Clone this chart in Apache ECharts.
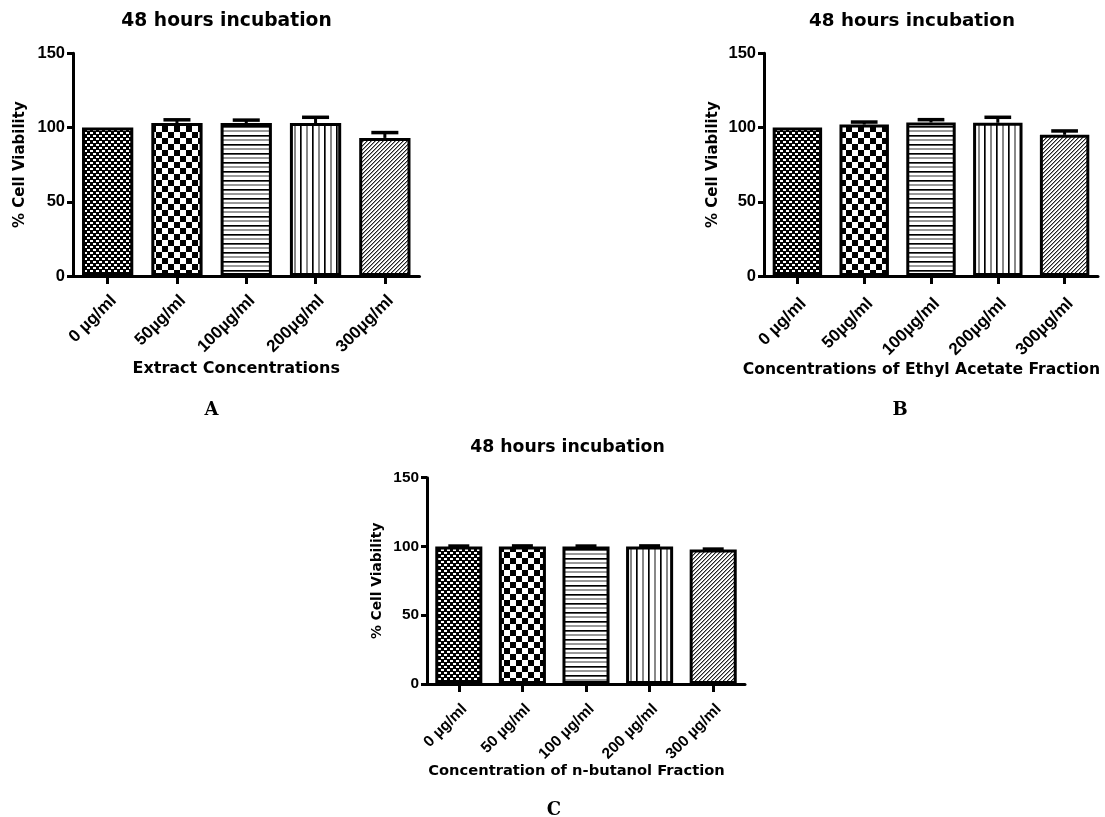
<!DOCTYPE html>
<html><head><meta charset="utf-8">
<script src="https://cdn.jsdelivr.net/npm/echarts@6/dist/echarts.min.js"></script>
<style>html,body{margin:0;padding:0;background:#fff}#chart{width:1105px;height:817px}</style>
</head><body><div id="chart"></div>
<script>
// ---------- data ----------
const titleText = '48 hours incubation';
const yAxisName = '% Cell Viability';
const categoriesAB = ['0 µg/ml', '50µg/ml', '100µg/ml', '200µg/ml', '300µg/ml'];
const categoriesC = ['0 µg/ml', '50 µg/ml', '100 µg/ml', '200 µg/ml', '300 µg/ml'];
const xNameA = 'Extract Concentrations';
const xNameB = 'Concentrations of Ethyl Acetate Fraction';
const xNameC = 'Concentration of n-butanol Fraction';
const meanA = [100, 103, 103, 103, 93];
const errA = [0, 2.2, 2.0, 3.9, 3.6];
const meanB = [100, 102, 103.4, 103.2, 95.1];
const errB = [0, 1.7, 1.9, 3.7, 2.6];
const meanC = [100, 100, 100, 100, 97.8];
const errC = [0.3, 0.4, 0.3, 0.4, 0.3];
const yTicks = [0, 50, 100, 150];
const panelLetters = ['A', 'B', 'C'];

// ---------- fill patterns ----------
function makeTile(w, h, draw) {
  const c = document.createElement('canvas');
  c.width = w; c.height = h;
  const g = c.getContext('2d');
  g.fillStyle = '#fff'; g.fillRect(0, 0, w, h);
  draw(g);
  return c;
}
const tiles = [
  makeTile(6, 6, g => { g.fillStyle = '#000'; g.fillRect(0, 0, 6, 6); g.fillStyle = '#fff'; g.fillRect(0, 0, 3, 2); g.fillRect(3, 3, 3, 2); }),
  makeTile(12, 12, g => { g.fillStyle = '#000'; g.fillRect(0, 0, 6, 6); g.fillRect(6, 6, 6, 6); }),
  makeTile(4, 9, g => { g.fillStyle = '#000'; g.fillRect(0, 0, 4, 1); g.fillStyle = '#555'; g.fillRect(0, 1, 4, 1); g.fillStyle = '#999'; g.fillRect(0, 4, 4, 2); }),
  makeTile(12, 4, g => { g.fillStyle = '#000'; g.fillRect(0, 0, 1, 4); g.fillStyle = '#555'; g.fillRect(1, 0, 1, 4); g.fillStyle = '#888'; g.fillRect(6, 0, 2, 4); }),
  makeTile(4, 4, g => {
    for (let i = 0; i < 4; i++) for (let j = 0; j < 4; j++) {
      const s = (i + j) % 4;
      if (s === 3) { g.fillStyle = '#222'; g.fillRect(i, j, 1, 1); }
      else if (s === 0) { g.fillStyle = '#999'; g.fillRect(i, j, 1, 1); }
    }
  })
];

// ---------- layout per panel ----------
const panels = [
  { grid: { left: 73, top: 53.3, width: 346.5, height: 222.7 }, cats: categoriesAB, mean: meanA, err: errA, xName: xNameA,
    tickFs: 16.5, xLabFs: 17, xLabMargin: 16, xNameFs: 16, xNameGap: 85, xNamePad: 20, yNameFs: 15, yNameGap: 45, cap: 0.39,
    title: { x: 226.5, y: 21.5, fs: 18.7 }, letter: { x: 211.5, y: 410 } },
  { grid: { left: 764, top: 53.3, width: 334, height: 222.7 }, cats: categoriesAB, mean: meanB, err: errB, xName: xNameB,
    tickFs: 16.5, xLabFs: 17, xLabMargin: 19, xNameFs: 15.6, xNameGap: 86, xNamePad: 19, yNameFs: 15, yNameGap: 43.5, cap: 0.4,
    title: { x: 912, y: 21.5, fs: 18.3 }, letter: { x: 900, y: 410 } },
  { grid: { left: 427, top: 477.7, width: 318, height: 206.3 }, cats: categoriesC, mean: meanC, err: errC, xName: xNameC,
    tickFs: 15.4, xLabFs: 15.5, xLabMargin: 17, xNameFs: 14.7, xNameGap: 80, xNamePad: 19, yNameFs: 13.8, yNameGap: 43, cap: 0.33,
    title: { x: 567.5, y: 448, fs: 17.3 }, letter: { x: 554, y: 810 } }
];

const sansBold = { fontFamily: 'Liberation Sans, Arial, sans-serif', fontWeight: 'bold', color: '#000' };
const wideBold = { fontFamily: 'DejaVu Sans, sans-serif', fontWeight: 'bold', color: '#000' };

const grids = [], xAxes = [], yAxes = [], series = [], graphics = [];
panels.forEach((p, i) => {
  grids.push(Object.assign({ containLabel: false, outerBoundsMode: 'none' }, p.grid));
  xAxes.push({
    type: 'category', gridIndex: i, data: p.cats, boundaryGap: true,
    axisLine: { show: true, lineStyle: { color: '#000', width: 3 } },
    axisTick: { show: true, alignWithLabel: true, length: 8, lineStyle: { color: '#000', width: 3 } },
    axisLabel: Object.assign({ rotate: 45, interval: 0, fontSize: p.xLabFs, margin: p.xLabMargin, verticalAlign: 'top', hideOverlap: false }, sansBold),
    splitLine: { show: false },
    name: p.xName, nameLocation: 'middle', nameGap: p.xNameGap, nameMoveOverlap: false,
    nameTextStyle: Object.assign({ fontSize: p.xNameFs, padding: [0, p.xNamePad, 0, 0] }, wideBold)
  });
  yAxes.push({
    type: 'value', gridIndex: i, min: yTicks[0], max: yTicks[yTicks.length - 1], interval: yTicks[1] - yTicks[0],
    axisLine: { show: true, lineStyle: { color: '#000', width: 3 } },
    axisTick: { show: true, length: 6, lineStyle: { color: '#000', width: 3 } },
    axisLabel: Object.assign({ fontSize: p.tickFs, margin: 8 }, sansBold),
    splitLine: { show: false },
    name: yAxisName, nameLocation: 'middle', nameRotate: 90, nameGap: p.yNameGap, nameMoveOverlap: false,
    nameTextStyle: Object.assign({ fontSize: p.yNameFs }, wideBold)
  });
  series.push({
    type: 'bar', xAxisIndex: i, yAxisIndex: i, barWidth: '74%', animation: false,
    itemStyle: { borderColor: '#000', borderWidth: 3 },
    emphasis: { disabled: true },
    data: p.mean.map((v, k) => ({ value: v, itemStyle: { color: { image: tiles[k], repeat: 'repeat' } } })),
    z: 2
  });
  series.push({
    type: 'custom', xAxisIndex: i, yAxisIndex: i, animation: false, z: 3,
    data: p.mean.map((v, k) => [k, v, p.err[k]]),
    encode: { x: 0, y: 1 },
    renderItem: (params, api) => {
      const x = api.value(0), m = api.value(1), e = api.value(2);
      if (!e) return null;
      const base = api.coord([x, m]);
      const top = api.coord([x, m + e]);
      const w = api.size([1, 0])[0] * p.cap;
      return { type: 'group', children: [
        { type: 'line', shape: { x1: base[0], y1: base[1], x2: top[0], y2: top[1] }, style: { stroke: '#000', lineWidth: 3 } },
        { type: 'line', shape: { x1: top[0] - w / 2, y1: top[1], x2: top[0] + w / 2, y2: top[1] }, style: { stroke: '#000', lineWidth: 3.5 } }
      ] };
    }
  });
  graphics.push({ type: 'text', x: p.title.x, y: p.title.y,
    style: { text: titleText, fontFamily: 'DejaVu Sans, sans-serif', fontWeight: 'bold', fontSize: p.title.fs, fill: '#000', textAlign: 'center', textVerticalAlign: 'middle' } });
  graphics.push({ type: 'text', x: p.letter.x, y: p.letter.y,
    style: { text: panelLetters[i], fontFamily: 'DejaVu Serif, serif', fontWeight: 'bold', fontSize: 18, fill: '#000', textAlign: 'center', textVerticalAlign: 'middle' } });
});

const chart = echarts.init(document.getElementById('chart'), null, { renderer: 'canvas' });
chart.setOption({
  backgroundColor: '#fff',
  animation: false,
  grid: grids, xAxis: xAxes, yAxis: yAxes, series: series,
  graphic: { elements: graphics },
  tooltip: { show: false }
});
</script></body></html>
